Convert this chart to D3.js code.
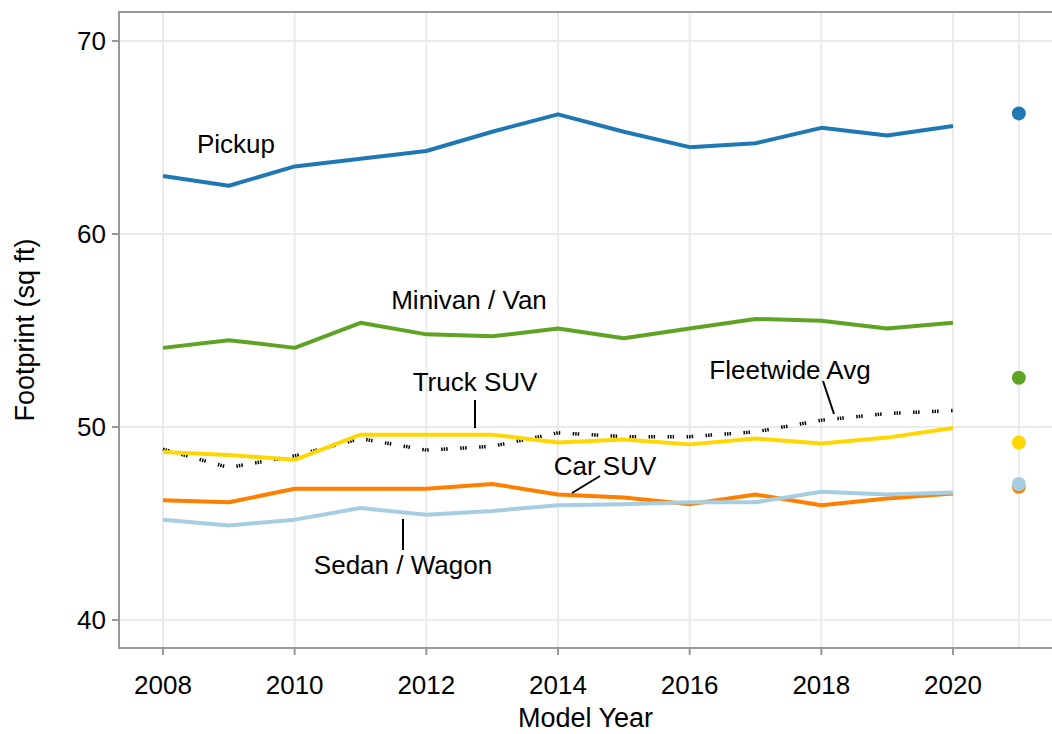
<!DOCTYPE html>
<html>
<head>
<meta charset="utf-8">
<script src="https://cdn.jsdelivr.net/npm/d3@7"></script>
<style>
  body { margin: 0; background: #fff; }
  text { font-family: "Liberation Sans", Arial, sans-serif; fill: #000; }
</style>
</head>
<body>
<svg id="chart" width="1052" height="734"></svg>
<script>
// data
const years = [2008, 2009, 2010, 2011, 2012, 2013, 2014, 2015, 2016, 2017, 2018, 2019, 2020]
const pickup   = [63.0, 62.5, 63.5, 63.9, 64.3, 65.3, 66.2, 65.3, 64.5, 64.7, 65.5, 65.1, 65.6]
const minivan  = [54.1, 54.5, 54.1, 55.4, 54.8, 54.7, 55.1, 54.6, 55.1, 55.6, 55.5, 55.1, 55.4]
const truckSuv = [48.7, 48.55, 48.3, 49.6, 49.6, 49.6, 49.2, 49.35, 49.1, 49.4, 49.15, 49.45, 49.95]
const fleet    = [48.85, 47.9, 48.5, 49.4, 48.8, 49.0, 49.7, 49.5, 49.5, 49.75, 50.35, 50.7, 50.85]
const carSuv   = [46.2, 46.1, 46.8, 46.8, 46.8, 47.05, 46.5, 46.35, 46.0, 46.5, 45.95, 46.3, 46.55]
const sedan    = [45.2, 44.9, 45.2, 45.8, 45.45, 45.65, 45.95, 46.0, 46.1, 46.1, 46.65, 46.5, 46.6]

// 2021 points
const pointYear = 2021
const pointNames  = ['Car SUV', 'Sedan / Wagon', 'Truck SUV', 'Minivan / Van', 'Pickup']
const pointValues = [46.9, 47.05, 49.2, 52.55, 66.25]

const xTicks = [2008, 2010, 2012, 2014, 2016, 2018, 2020]
const yTicks = [40, 50, 60, 70]

const colors = {
  'Pickup': '#1f78b4',
  'Minivan / Van': '#5fa324',
  'Truck SUV': '#ffd700',
  'Car SUV': '#ff7f00',
  'Sedan / Wagon': '#a6cee3',
  'Fleetwide Avg': '#000'
}

const series = [
  { name: 'Pickup', values: pickup },
  { name: 'Minivan / Van', values: minivan },
  { name: 'Fleetwide Avg', values: fleet, dotted: true },
  { name: 'Truck SUV', values: truckSuv },
  { name: 'Car SUV', values: carSuv },
  { name: 'Sedan / Wagon', values: sedan }
]

const svg = d3.select('#chart')
const pLeft = 119, pRight = 1052, pTop = 12, pBottom = 648

const x = d3.scaleLinear().domain([2008, 2020]).range([163, 953])
const y = d3.scaleLinear().domain([40, 70]).range([620, 41])

// grid
svg.append('g').selectAll('line').data(yTicks).enter().append('line')
  .attr('x1', pLeft).attr('x2', pRight)
  .attr('y1', d => y(d)).attr('y2', d => y(d))
  .style('stroke', '#ebebeb').style('stroke-width', 2)
svg.append('g').selectAll('line').data(xTicks.concat([pointYear])).enter().append('line')
  .attr('x1', d => x(d)).attr('x2', d => x(d))
  .attr('y1', pTop).attr('y2', pBottom)
  .style('stroke', '#ebebeb').style('stroke-width', 2)

// panel border (top, left, bottom)
svg.append('path')
  .attr('d', `M${pRight},${pTop}H${pLeft}V${pBottom}H${pRight}`)
  .style('fill', 'none').style('stroke', '#999').style('stroke-width', 2)

// ticks
svg.append('g').selectAll('line').data(yTicks).enter().append('line')
  .attr('x1', pLeft - 7).attr('x2', pLeft)
  .attr('y1', d => y(d)).attr('y2', d => y(d))
  .style('stroke', '#999').style('stroke-width', 2)
svg.append('g').selectAll('text').data(yTicks).enter().append('text')
  .attr('x', pLeft - 13).attr('y', d => y(d)).attr('dy', '0.36em')
  .attr('text-anchor', 'end').style('font-size', '26px')
  .text(d => d)
svg.append('g').selectAll('line').data(xTicks).enter().append('line')
  .attr('x1', d => x(d)).attr('x2', d => x(d))
  .attr('y1', pBottom).attr('y2', pBottom + 7)
  .style('stroke', '#999').style('stroke-width', 2)
svg.append('g').selectAll('text').data(xTicks).enter().append('text')
  .attr('x', d => x(d)).attr('y', 694)
  .attr('text-anchor', 'middle').style('font-size', '26px')
  .text(d => d)

// axis titles
svg.append('text')
  .attr('x', (pLeft + pRight) / 2).attr('y', 727)
  .attr('text-anchor', 'middle').style('font-size', '27px')
  .text('Model Year')
svg.append('text')
  .attr('transform', `translate(34, ${(pTop + pBottom) / 2}) rotate(-90)`)
  .attr('text-anchor', 'middle').style('font-size', '27px')
  .text('Footprint (sq ft)')

// lines
const line = d3.line()
  .x((d, i) => x(years[i]))
  .y(d => y(d))

svg.append('g').selectAll('path').data(series).enter().append('path')
  .attr('d', d => line(d.values))
  .style('fill', 'none')
  .style('stroke', d => colors[d.name])
  .style('stroke-width', d => d.dotted ? 3.5 : 4)
  .style('stroke-dasharray', d => d.dotted ? '1.5,1,1.5,1,1.5,12.5' : null)
  .style('stroke-linejoin', 'round')

// 2021 points
svg.append('g').selectAll('circle').data(pointValues).enter().append('circle')
  .attr('cx', x(pointYear))
  .attr('cy', d => y(d))
  .attr('r', 7)
  .style('fill', (d, i) => colors[pointNames[i]])

// labels with leaders
const labels = [
  { text: 'Pickup', lx: 236, ly: 144, leader: null },
  { text: 'Minivan / Van', lx: 469, ly: 300, leader: null },
  { text: 'Truck SUV', lx: 475, ly: 382, leader: [475, 400, 475, 428] },
  { text: 'Fleetwide Avg', lx: 790, ly: 370, leader: [823, 381, 834, 414] },
  { text: 'Car SUV', lx: 605, ly: 466, leader: [600, 476, 572, 493] },
  { text: 'Sedan / Wagon', lx: 403, ly: 565, leader: [403, 519, 403, 550] }
]
const lg = svg.append('g')
lg.selectAll('line').data(labels.filter(d => d.leader)).enter().append('line')
  .attr('x1', d => d.leader[0]).attr('y1', d => d.leader[1])
  .attr('x2', d => d.leader[2]).attr('y2', d => d.leader[3])
  .style('stroke', '#000').style('stroke-width', 2)
lg.selectAll('text').data(labels).enter().append('text')
  .attr('x', d => d.lx).attr('y', d => d.ly).attr('dy', '0.36em')
  .attr('text-anchor', 'middle').style('font-size', '26px')
  .text(d => d.text)
</script>
</body>
</html>
